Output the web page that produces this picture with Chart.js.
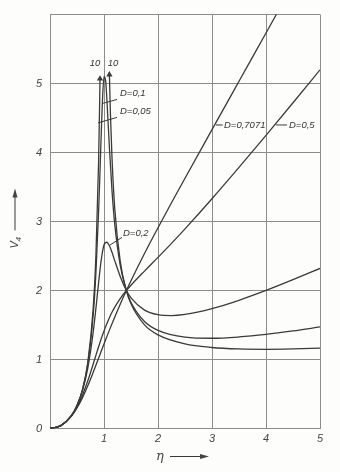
<!DOCTYPE html>
<html>
<head>
<meta charset="utf-8">
<script src="https://cdn.jsdelivr.net/npm/chart.js@4/dist/chart.umd.min.js"></script>
<style>
  html, body { margin: 0; padding: 0; background: #fdfdfb; }
  #wrap { width: 340px; height: 472px; }
</style>
</head>
<body>
<div id="wrap"><canvas id="vchart" width="340" height="472"></canvas></div>
<script>
// frequency ratio eta and magnification V for each damping D
const eta = [0, 0.2, 0.4, 0.5, 0.6, 0.7, 0.8, 0.85, 0.9, 0.95, 1.0, 1.05, 1.1, 1.15, 1.2, 1.3, 1.414, 1.5, 1.75, 2.0, 2.25, 2.5, 3.0, 3.5, 4.0, 4.5, 5.0];
const vD02 = [0, 0.042, 0.190, 0.329, 0.542, 0.875, 1.395, 1.739, 2.115, 2.45, 2.66, 2.70, 2.65, 2.55, 2.43, 2.205, 2.0, 1.893, 1.716, 1.650, 1.637, 1.654, 1.738, 1.859, 2.001, 2.157, 2.320];
const vD05 = [0, 0.042, 0.185, 0.310, 0.479, 0.691, 0.934, 1.060, 1.185, 1.304, 1.414, 1.515, 1.606, 1.688, 1.760, 1.883, 2.0, 2.077, 2.282, 2.481, 2.684, 2.894, 3.331, 3.785, 4.249, 4.722, 5.200];
const vD07 = [0, 0.042, 0.182, 0.297, 0.444, 0.619, 0.814, 0.916, 1.019, 1.122, 1.225, 1.326, 1.426, 1.523, 1.618, 1.801, 2.0, 2.143, 2.537, 2.910, 3.272, 3.628, 4.332, 5.033, 5.733, 6.434, 7.130];

const etaD01 = [0, 0.2, 0.4, 0.5, 0.6, 0.7, 0.8, 0.85, 0.9, 0.93, 0.95, 0.97, 1.0, 1.03, 1.05, 1.1, 1.15, 1.2, 1.3, 1.414, 1.5, 1.75, 2.0, 2.5, 3.0, 3.5, 4.0, 4.5, 5.0];
const vD01 = [0, 0.042, 0.190, 0.332, 0.557, 0.936, 1.645, 2.252, 3.145, 3.827, 4.303, 4.726, 5.099, 5.042, 4.820, 4.074, 3.426, 2.955, 2.368, 2.0, 1.827, 1.551, 1.423, 1.325, 1.308, 1.327, 1.364, 1.414, 1.472];

const etaD005 = [0, 0.2, 0.4, 0.5, 0.6, 0.7, 0.8, 0.85, 0.9, 0.92, 0.926, 1.0, 1.1, 1.12, 1.15, 1.2, 1.3, 1.414, 1.5, 1.75, 2.0, 2.5, 3.0, 3.5, 4.0, 4.5, 5.0];
const vD005 = [0, 0.042, 0.190, 0.333, 0.561, 0.954, 1.741, 2.498, 3.869, 4.75, 5.07, 10.05, 5.13, 4.54, 3.888, 3.18, 2.427, 2.0, 1.807, 1.502, 1.357, 1.226, 1.174, 1.153, 1.148, 1.153, 1.164];

const xTicks = [1, 2, 3, 4, 5];
const yTicks = [0, 1, 2, 3, 4, 5];

const INK = '#3a3a3a';
const GRID = '#8c8c8c';
const CUT = 5.3;   // curve is broken off above this, with an arrow

function pts(xs, ys) {
  return xs.map((x, i) => ({ x: x, y: ys[i] }));
}

function curve(data, extra) {
  return Object.assign({
    data: data,
    borderColor: INK,
    borderWidth: 1.3,
    pointRadius: 0,
    cubicInterpolationMode: 'monotone',
    fill: false
  }, extra || {});
}

// D=0.05 peak goes to 10: hide the part above CUT, put arrow heads at the ends
const tallCurve = curve(pts(etaD005, vD005), {
  segment: {
    borderColor: c => (c.p0.parsed.y > CUT || c.p1.parsed.y > CUT) ? 'rgba(0,0,0,0)' : undefined
  },
  pointStyle: 'triangle',
  pointBackgroundColor: INK,
  pointBorderColor: INK,
  pointBorderWidth: 0,
  pointRadius: c => {
    const d = c.dataset.data;
    const i = c.dataIndex;
    if (d[i].y > CUT) return 0;
    const nb = (d[i - 1] && d[i - 1].y > CUT) || (d[i + 1] && d[i + 1].y > CUT);
    return nb ? 3.6 : 0;
  }
});

// text labels, placed in data units
const notes = [
  { text: 'D=0,1',    at: [1.296, 4.86], lead: [[0.963, 4.71], [1.241, 4.77]] },
  { text: 'D=0,05',   at: [1.296, 4.60], lead: [[0.889, 4.43], [1.241, 4.51]] },
  { text: 'D=0,2',    at: [1.352, 2.83], lead: [[1.111, 2.66], [1.333, 2.77]] },
  { text: 'D=0,7071', at: [3.222, 4.40], lead: [[3.074, 4.40], [3.200, 4.40]] },
  { text: 'D=0,5',    at: [4.426, 4.40], lead: [[4.185, 4.40], [4.390, 4.40]] }
];
const peakTags = [
  { text: '10', at: [0.833, 5.29] },
  { text: '10', at: [1.167, 5.29] }
];

const decor = {
  id: 'decor',
  afterDatasetsDraw(chart) {
    const ctx = chart.ctx;
    const xs = chart.scales.x;
    const ys = chart.scales.y;
    const area = chart.chartArea;
    ctx.save();
    ctx.strokeStyle = INK;
    ctx.fillStyle = '#333';
    ctx.lineWidth = 1;
    ctx.font = 'italic 9.5px "Liberation Sans", Arial, sans-serif';
    ctx.textBaseline = 'middle';
    ctx.textAlign = 'left';
    notes.forEach(n => {
      ctx.beginPath();
      ctx.moveTo(xs.getPixelForValue(n.lead[0][0]), ys.getPixelForValue(n.lead[0][1]));
      ctx.lineTo(xs.getPixelForValue(n.lead[1][0]), ys.getPixelForValue(n.lead[1][1]));
      ctx.stroke();
      ctx.fillText(n.text, xs.getPixelForValue(n.at[0]), ys.getPixelForValue(n.at[1]));
    });
    ctx.textAlign = 'center';
    peakTags.forEach(t => {
      ctx.fillText(t.text, xs.getPixelForValue(t.at[0]), ys.getPixelForValue(t.at[1]));
    });

    // x axis title with arrow
    const tx = xs.getPixelForValue(2) + 2;
    const ty = area.bottom + 28;
    ctx.font = 'italic 13px "DejaVu Serif", serif';
    ctx.fillStyle = '#444';
    ctx.fillText('\u03b7', tx, ty);
    ctx.beginPath();
    ctx.moveTo(tx + 10, ty);
    ctx.lineTo(tx + 44, ty);
    ctx.stroke();
    ctx.beginPath();
    ctx.moveTo(tx + 49, ty);
    ctx.lineTo(tx + 40, ty - 2.5);
    ctx.lineTo(tx + 40, ty + 2.5);
    ctx.closePath();
    ctx.fill();

    // y axis title with arrow
    const ax = 15;
    const ay = ys.getPixelForValue(2.9);
    ctx.beginPath();
    ctx.moveTo(ax, ay + 2);
    ctx.lineTo(ax, ay - 34);
    ctx.stroke();
    ctx.beginPath();
    ctx.moveTo(ax, ay - 40);
    ctx.lineTo(ax - 2.5, ay - 31);
    ctx.lineTo(ax + 2.5, ay - 31);
    ctx.closePath();
    ctx.fill();
    ctx.translate(ax, ay + 15);
    ctx.rotate(-Math.PI / 2);
    ctx.textAlign = 'left';
    ctx.font = 'italic 11px "Liberation Sans", Arial, sans-serif';
    ctx.fillText('V', -5, 0);
    ctx.font = 'italic 8px "Liberation Sans", Arial, sans-serif';
    ctx.fillText('4', 2, 4);
    ctx.restore();
  }
};

const tickFont = { family: '"Liberation Sans", Arial, sans-serif', size: 11, style: 'italic' };

new Chart(document.getElementById('vchart').getContext('2d'), {
  type: 'line',
  data: {
    datasets: [
      curve(pts(eta, vD07)),
      curve(pts(eta, vD05)),
      curve(pts(eta, vD02)),
      curve(pts(etaD01, vD01)),
      tallCurve
    ]
  },
  options: {
    responsive: false,
    animation: false,
    layout: { padding: { top: 10, right: 20, left: 0, bottom: 0 } },
    plugins: { legend: { display: false }, tooltip: { enabled: false } },
    scales: {
      x: {
        type: 'linear',
        min: 0,
        max: 5,
        afterFit: s => { s.height = 43.5; },
        afterBuildTicks: s => { s.ticks = [0].concat(xTicks).map(v => ({ value: v })); },
        ticks: {
          color: '#444',
          font: tickFont,
          padding: 4,
          maxRotation: 0,
          callback: v => v === 0 ? '' : String(v)
        },
        grid: { color: GRID, lineWidth: 1, drawTicks: false },
        border: { color: GRID, width: 1 }
      },
      y: {
        min: 0,
        max: 6,
        afterFit: s => { s.width = 50; },
        afterBuildTicks: s => { s.ticks = yTicks.concat([6]).map(v => ({ value: v })); },
        ticks: {
          color: '#444',
          font: tickFont,
          padding: 8,
          callback: v => v === 6 ? '' : String(v)
        },
        grid: { color: GRID, lineWidth: 1, drawTicks: false },
        border: { color: GRID, width: 1 }
      }
    }
  },
  plugins: [decor]
});
</script>
</body>
</html>
